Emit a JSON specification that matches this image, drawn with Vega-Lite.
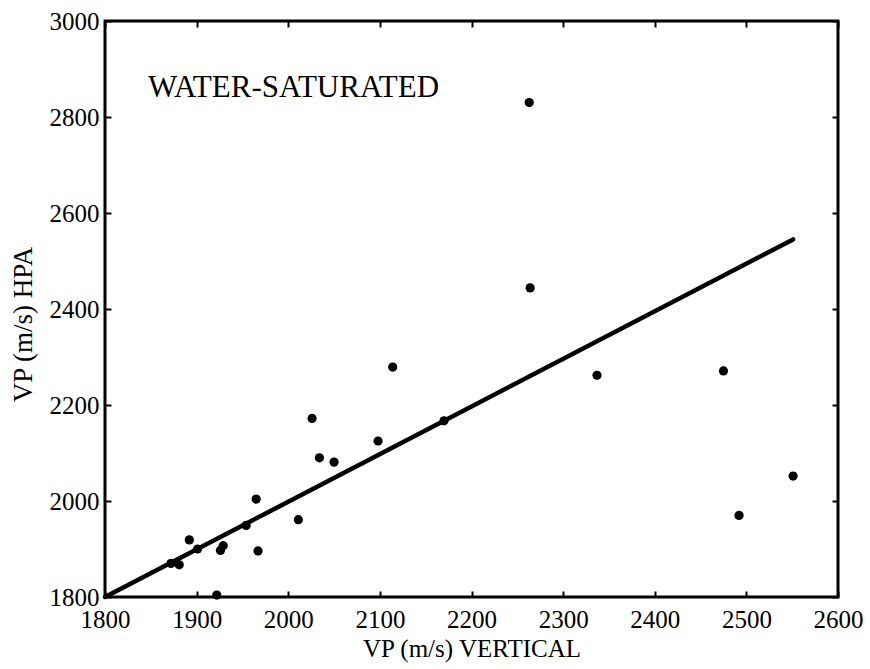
{
  "$schema": "https://vega.github.io/schema/vega-lite/v6.json",
  "width": 733,
  "height": 576,
  "autosize": {"type": "none"},
  "padding": {"left": 105, "top": 21, "right": 32, "bottom": 72},
  "background": "white",
  "config": {
    "view": {"stroke": "black", "strokeWidth": 3},
    "font": "Liberation Serif",
    "axis": {
      "domain": false,
      "grid": false,
      "labelFont": "Liberation Serif",
      "labelFontSize": 25,
      "labelColor": "black",
      "titleFont": "Liberation Serif",
      "titleFontSize": 25,
      "titleFontWeight": "normal",
      "titleColor": "black",
      "tickColor": "black",
      "tickWidth": 2,
      "tickSize": -6,
      "labelFlush": false,
      "labelOverlap": false
    }
  },
  "layer": [
    {
      "data": {
        "values": [
          {"vx": 1872, "vy": 1870}, {"vx": 1881, "vy": 1867}, {"vx": 1892, "vy": 1919},
          {"vx": 1901, "vy": 1900}, {"vx": 1922, "vy": 1804}, {"vx": 1926, "vy": 1897},
          {"vx": 1929, "vy": 1907}, {"vx": 1954, "vy": 1949}, {"vx": 1965, "vy": 2004},
          {"vx": 1967, "vy": 1896}, {"vx": 2011, "vy": 1961}, {"vx": 2026, "vy": 2172},
          {"vx": 2034, "vy": 2090}, {"vx": 2050, "vy": 2081}, {"vx": 2098, "vy": 2125},
          {"vx": 2114, "vy": 2279}, {"vx": 2170, "vy": 2167}, {"vx": 2263, "vy": 2830},
          {"vx": 2264, "vy": 2444}, {"vx": 2337, "vy": 2262}, {"vx": 2475, "vy": 2271},
          {"vx": 2492, "vy": 1970}, {"vx": 2551, "vy": 2052}
        ]
      },
      "mark": {"type": "circle", "size": 85, "color": "black", "opacity": 1},
      "encoding": {
        "x": {
          "field": "vx", "type": "quantitative",
          "scale": {"domain": [1800, 2600], "nice": false, "zero": false},
          "axis": {"title": "VP (m/s) VERTICAL", "values": [1800, 1900, 2000, 2100, 2200, 2300, 2400, 2500, 2600], "labelPadding": 16, "titlePadding": 4, "format": "d"}
        },
        "y": {
          "field": "vy", "type": "quantitative",
          "scale": {"domain": [1800, 3000], "nice": false, "zero": false},
          "axis": {"title": "VP (m/s) HPA", "titleFontSize": 27, "values": [1800, 2000, 2200, 2400, 2600, 2800, 3000], "labelPadding": 12, "titlePadding": 12, "format": "d", "titleY": 303}
        }
      }
    },
    {
      "data": {"values": [{"vx": 1800, "vy": 1800}, {"vx": 2551, "vy": 2545}]},
      "mark": {"type": "line", "color": "black", "strokeWidth": 4.5, "strokeCap": "round"},
      "encoding": {
        "x": {"field": "vx", "type": "quantitative", "axis": {"orient": "top", "labels": false, "title": null, "values": [1800, 1900, 2000, 2100, 2200, 2300, 2400, 2500, 2600]}},
        "y": {"field": "vy", "type": "quantitative", "axis": {"orient": "right", "labels": false, "title": null, "values": [1800, 2000, 2200, 2400, 2600, 2800, 3000]}}
      }
    },
    {
      "data": {"values": [{"vx": 1847, "vy": 2842, "label": "WATER-SATURATED"}]},
      "mark": {"type": "text", "align": "left", "baseline": "alphabetic", "font": "Liberation Serif", "fontSize": 31, "color": "black"},
      "encoding": {
        "x": {"field": "vx", "type": "quantitative", "axis": null},
        "y": {"field": "vy", "type": "quantitative", "axis": null},
        "text": {"field": "label"}
      }
    }
  ],
  "resolve": {"axis": {"x": "independent", "y": "independent"}}
}
